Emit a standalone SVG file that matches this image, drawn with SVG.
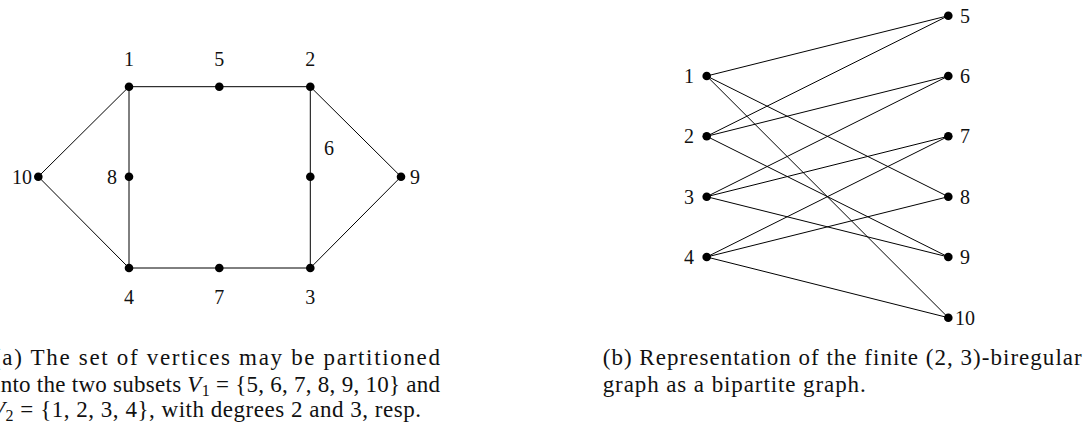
<svg xmlns="http://www.w3.org/2000/svg" width="1087" height="428" viewBox="0 0 1087 428">
<style>
  .bg { fill: #ffffff; }
  .edge { stroke: #000; stroke-width: 1; fill: none; }
  .dot { fill: #000; }
  .lbl { font-family: "Liberation Serif", "Times New Roman", serif; font-size: 20px; fill: #111; }
  .cap { font-family: "Liberation Serif", "Times New Roman", serif; font-size: 23px; fill: #111; }
  .it { font-style: italic; }
  .sub { font-size: 16px; }
</style>
<rect class="bg" x="0" y="0" width="1087" height="428"/>

<!-- Left graph connectors -->
<g id="left-edges">
  <line class="edge" x1="38.3" y1="176.7" x2="129" y2="86.7"/>
  <line class="edge" x1="38.3" y1="176.7" x2="129" y2="268"/>
  <line class="edge" x1="129" y1="86.7" x2="219.3" y2="86.7"/>
  <line class="edge" x1="219.3" y1="86.7" x2="310.3" y2="86.7"/>
  <line class="edge" x1="129" y1="86.7" x2="129" y2="176.7"/>
  <line class="edge" x1="129" y1="176.7" x2="129" y2="268"/>
  <line class="edge" x1="129" y1="268" x2="219.3" y2="268"/>
  <line class="edge" x1="219.3" y1="268" x2="310.3" y2="268"/>
  <line class="edge" x1="310.3" y1="86.7" x2="310.3" y2="176.7"/>
  <line class="edge" x1="310.3" y1="176.7" x2="310.3" y2="268"/>
  <line class="edge" x1="310.3" y1="86.7" x2="401" y2="176.7"/>
  <line class="edge" x1="401" y1="176.7" x2="310.3" y2="268"/>
</g>

<!-- Left graph nodes -->
<g id="a-n1"><circle class="dot" cx="129" cy="86.7" r="4.3"/><text class="lbl" x="129" y="66" text-anchor="middle">1</text></g>
<g id="a-n5"><circle class="dot" cx="219.3" cy="86.7" r="4.3"/><text class="lbl" x="219.3" y="66" text-anchor="middle">5</text></g>
<g id="a-n2"><circle class="dot" cx="310.3" cy="86.7" r="4.3"/><text class="lbl" x="310.3" y="66" text-anchor="middle">2</text></g>
<g id="a-n10"><circle class="dot" cx="38.3" cy="176.7" r="4.3"/><text class="lbl" x="32" y="183.5" text-anchor="end">10</text></g>
<g id="a-n8"><circle class="dot" cx="129" cy="176.7" r="4.3"/><text class="lbl" x="117" y="183.5" text-anchor="end">8</text></g>
<g id="a-n6"><circle class="dot" cx="310.3" cy="176.7" r="4.3"/><text class="lbl" x="324" y="155">6</text></g>
<g id="a-n9"><circle class="dot" cx="401" cy="176.7" r="4.3"/><text class="lbl" x="410" y="183.5">9</text></g>
<g id="a-n4"><circle class="dot" cx="129" cy="268" r="4.3"/><text class="lbl" x="129" y="303.5" text-anchor="middle">4</text></g>
<g id="a-n7"><circle class="dot" cx="219.3" cy="268" r="4.3"/><text class="lbl" x="219.3" y="303.5" text-anchor="middle">7</text></g>
<g id="a-n3"><circle class="dot" cx="310.3" cy="268" r="4.3"/><text class="lbl" x="310.3" y="303.5" text-anchor="middle">3</text></g>

<!-- Right graph connectors -->
<g id="right-edges">
  <line class="edge" x1="706.7" y1="76" x2="948.3" y2="15.7"/>
  <line class="edge" x1="706.7" y1="76" x2="948.3" y2="196.7"/>
  <line class="edge" x1="706.7" y1="76" x2="948.3" y2="317.7"/>
  <line class="edge" x1="706.7" y1="136.3" x2="948.3" y2="15.7"/>
  <line class="edge" x1="706.7" y1="136.3" x2="948.3" y2="76"/>
  <line class="edge" x1="706.7" y1="136.3" x2="948.3" y2="257"/>
  <line class="edge" x1="706.7" y1="196.7" x2="948.3" y2="76"/>
  <line class="edge" x1="706.7" y1="196.7" x2="948.3" y2="136.3"/>
  <line class="edge" x1="706.7" y1="196.7" x2="948.3" y2="257"/>
  <line class="edge" x1="706.7" y1="257" x2="948.3" y2="136.3"/>
  <line class="edge" x1="706.7" y1="257" x2="948.3" y2="196.7"/>
  <line class="edge" x1="706.7" y1="257" x2="948.3" y2="317.7"/>
</g>

<!-- Right graph nodes -->
<g id="b-n1"><circle class="dot" cx="706.7" cy="76" r="4.3"/><text class="lbl" x="694" y="82.8" text-anchor="end">1</text></g>
<g id="b-n2"><circle class="dot" cx="706.7" cy="136.3" r="4.3"/><text class="lbl" x="694" y="143.1" text-anchor="end">2</text></g>
<g id="b-n3"><circle class="dot" cx="706.7" cy="196.7" r="4.3"/><text class="lbl" x="694" y="203.5" text-anchor="end">3</text></g>
<g id="b-n4"><circle class="dot" cx="706.7" cy="257" r="4.3"/><text class="lbl" x="694" y="263.8" text-anchor="end">4</text></g>
<g id="b-n5"><circle class="dot" cx="948.3" cy="15.7" r="4.3"/><text class="lbl" x="960" y="22.5">5</text></g>
<g id="b-n6"><circle class="dot" cx="948.3" cy="76" r="4.3"/><text class="lbl" x="960" y="82.8">6</text></g>
<g id="b-n7"><circle class="dot" cx="948.3" cy="136.3" r="4.3"/><text class="lbl" x="960" y="143.1">7</text></g>
<g id="b-n8"><circle class="dot" cx="948.3" cy="196.7" r="4.3"/><text class="lbl" x="960" y="203.5">8</text></g>
<g id="b-n9"><circle class="dot" cx="948.3" cy="257" r="4.3"/><text class="lbl" x="960" y="263.8">9</text></g>
<g id="b-n10"><circle class="dot" cx="948.3" cy="317.7" r="4.3"/><text class="lbl" x="955" y="324.5">10</text></g>

<!-- Captions -->
<g id="caption-a">
  <text class="cap" x="-7" y="365" textLength="447" lengthAdjust="spacing">(a) The set of vertices may be partitioned</text>
  <text class="cap" x="-6" y="391.5" textLength="446" lengthAdjust="spacing">into the two subsets <tspan class="it">V</tspan><tspan class="sub" dy="4">1</tspan><tspan dy="-4"> = {5, 6, 7, 8, 9, 10} and</tspan></text>
  <text class="cap" x="-9" y="417" textLength="430" lengthAdjust="spacing"><tspan class="it">V</tspan><tspan class="sub" dy="4">2</tspan><tspan dy="-4"> = {1, 2, 3, 4}, with degrees 2 and 3, resp.</tspan></text>
</g>
<g id="caption-b">
  <text class="cap" x="602.7" y="365" textLength="479" lengthAdjust="spacing">(b) Representation of the finite (2, 3)-biregular</text>
  <text class="cap" x="602.7" y="391.5" textLength="263" lengthAdjust="spacing">graph as a bipartite graph.</text>
</g>
</svg>
